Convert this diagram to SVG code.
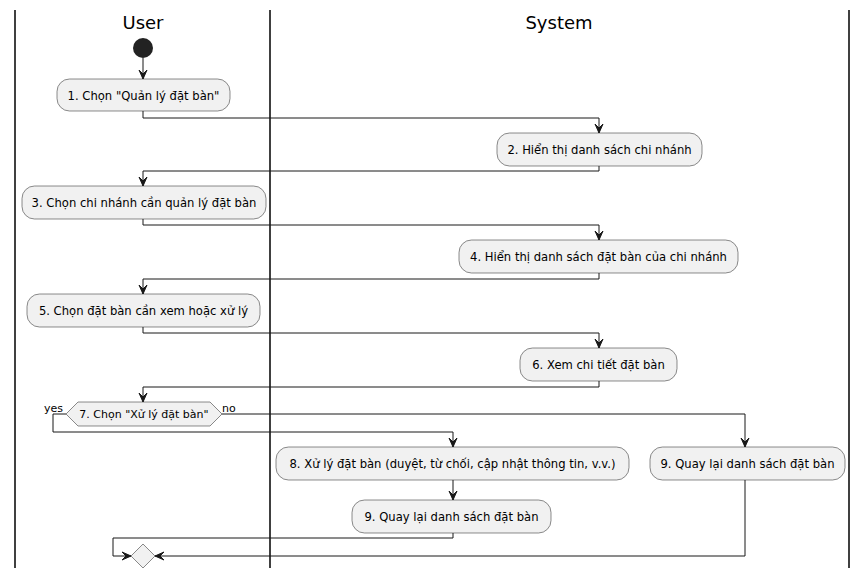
<svg xmlns="http://www.w3.org/2000/svg" width="868" height="579" viewBox="0 0 868 579">
<defs>
<style>
.lane{stroke:#000;stroke-width:1.5}
.hdr{font-family:"DejaVu Sans",sans-serif;font-size:18px;fill:#000;text-anchor:middle}
.act rect{fill:#F1F1F1;stroke:#181818;stroke-width:0.5}
.act text,.dec text{font-family:"DejaVu Sans",sans-serif;font-size:11.6px;fill:#000;text-anchor:middle}
.dec polygon{fill:#F1F1F1;stroke:#181818;stroke-width:0.5}
.lbl{font-family:"DejaVu Sans",sans-serif;font-size:11px;fill:#000}
.conn path{fill:none;stroke:#181818;stroke-width:1}
.conn polygon{fill:#181818;stroke:#181818;stroke-width:1}
</style>
</defs>
<rect width="868" height="579" fill="#fff"/>
<g id="lanes">
<line class="lane" x1="15" y1="10" x2="15" y2="568"/>
<line class="lane" x1="270" y1="10" x2="270" y2="568"/>
<line class="lane" x1="849" y1="10" x2="849" y2="568"/>
<text class="hdr" x="143" y="29">User</text>
<text class="hdr" x="559" y="29">System</text>
</g>
<g id="start"><circle cx="143" cy="48" r="10" fill="#222"/></g>
<g id="a1" class="act"><rect x="57" y="79" width="173" height="32" rx="12.5"/><text x="143.5" y="100">1. Chọn "Quản lý đặt bàn"</text></g>
<g id="a2" class="act"><rect x="497" y="133" width="205" height="33" rx="12.5"/><text x="599.5" y="154">2. Hiển thị danh sách chi nhánh</text></g>
<g id="a3" class="act"><rect x="22" y="186" width="244" height="33" rx="12.5"/><text x="144" y="207">3. Chọn chi nhánh cần quản lý đặt bàn</text></g>
<g id="a4" class="act"><rect x="459" y="240" width="279" height="33" rx="12.5"/><text x="598.5" y="261">4. Hiển thị danh sách đặt bàn của chi nhánh</text></g>
<g id="a5" class="act"><rect x="27" y="294" width="233" height="33" rx="12.5"/><text x="143.5" y="315">5. Chọn đặt bàn cần xem hoặc xử lý</text></g>
<g id="a6" class="act"><rect x="520" y="348" width="157" height="33" rx="12.5"/><text x="598.5" y="369">6. Xem chi tiết đặt bàn</text></g>
<g id="d7" class="dec"><polygon points="66,414 78,402 210,402 222,414 210,426 78,426"/><text x="144" y="418" style="font-size:11px">7. Chọn "Xử lý đặt bàn"</text></g>
<g id="a8" class="act"><rect x="276" y="447" width="353" height="33" rx="12.5"/><text x="452.5" y="468">8. Xử lý đặt bàn (duyệt, từ chối, cập nhật thông tin, v.v.)</text></g>
<g id="a9a" class="act"><rect x="352" y="500" width="199" height="33" rx="12.5"/><text x="451.5" y="521">9. Quay lại danh sách đặt bàn</text></g>
<g id="a9b" class="act"><rect x="650" y="447" width="195" height="33" rx="12.5"/><text x="747.5" y="468">9. Quay lại danh sách đặt bàn</text></g>
<g id="merge" class="dec"><polygon points="143,544 155,556 143,568 131,556"/></g>
<g id="connectors" class="conn">
<path d="M143,58 V79"/><polygon points="139,70 143,79 147,70 143,74"/>
<path d="M143,111 V118 H599 V133"/><polygon points="595,124 599,133 603,124 599,128"/>
<path d="M599,166 V171 H143 V186"/><polygon points="139,177 143,186 147,177 143,181"/>
<path d="M143,219 V225 H599 V240"/><polygon points="595,231 599,240 603,231 599,235"/>
<path d="M599,273 V279 H143 V294"/><polygon points="139,285 143,294 147,285 143,289"/>
<path d="M143,327 V333 H599 V348"/><polygon points="595,339 599,348 603,339 599,343"/>
<path d="M599,381 V387 H143 V402"/><polygon points="139,393 143,402 147,393 143,397"/>
<text class="lbl" x="44" y="412">yes</text>
<text class="lbl" x="222" y="412">no</text>
<path d="M66,414 H53 V432 H453 V447"/><polygon points="449,438 453,447 457,438 453,442"/>
<path d="M222,414 H745 V447"/><polygon points="741,438 745,447 749,438 745,442"/>
<path d="M453,480 V500"/><polygon points="449,491 453,500 457,491 453,495"/>
<path d="M453,533 V538 H113 V556 H131"/><polygon points="122,552 131,556 122,560 126,556"/>
<path d="M745,480 V556 H155"/><polygon points="164,552 155,556 164,560 160,556"/>
</g>
</svg>
